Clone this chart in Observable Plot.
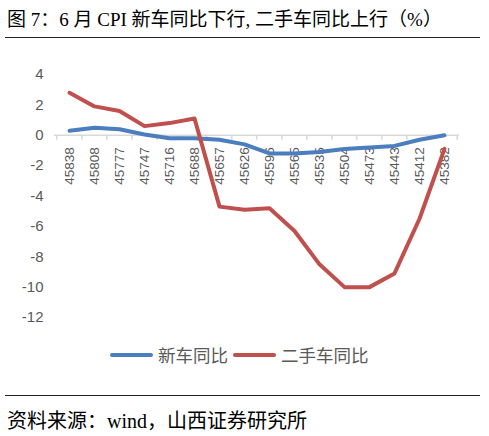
<!DOCTYPE html>
<html>
<head>
<meta charset="utf-8">
<script src="https://cdn.jsdelivr.net/npm/d3@7"></script>
<script src="https://cdn.jsdelivr.net/npm/@observablehq/plot@0.6"></script>
<style>
  body { margin: 0; background: #fff; }
  #page { position: relative; width: 489px; height: 436px; overflow: hidden; }
  .cn { font-family: "Liberation Serif", "Noto Sans CJK SC", serif; color: #000; }
  #title { position: absolute; left: 7px; top: 4px; font-size: 19px; white-space: nowrap; }
  .rule { position: absolute; left: 5px; width: 475px; height: 0; border-top: 1.5px solid #222; }
  #chart { position: absolute; left: 0; top: 40px; }
  #legend { position: absolute; left: 110px; top: 342px; display: flex; align-items: center;
    font-family: "Noto Sans CJK SC", sans-serif; font-size: 17.5px; color: #595959; white-space: nowrap; }
  #legend .sw { width: 43px; height: 4px; border-radius: 2px; margin-right: 5px; }
  #legend .item { display: flex; align-items: center; margin-right: 5px; }
  #caption { position: absolute; left: 7px; top: 405px; font-size: 20px; white-space: nowrap; }
</style>
</head>
<body>
<div id="page">
  <div id="title" class="cn">图 7：6 月 CPI 新车同比下行, 二手车同比上行（%）</div>
  <div class="rule" style="top:37px"></div>
  <div id="chart"></div>
  <div id="legend"></div>
  <div class="rule" style="top:395px"></div>
  <div id="caption" class="cn">资料来源：wind，山西证券研究所</div>
</div>
<script>
// x categories as they appear in the source (Excel serial dates)
var months = ["45838", "45808", "45777", "45747", "45716", "45688", "45657", "45626",
              "45596", "45565", "45535", "45504", "45473", "45443", "45412", "45382"]
var newCar  = [0.3, 0.5, 0.4, 0.05, -0.2, -0.2, -0.3, -0.6, -1.2, -1.2, -1.1, -0.9, -0.8, -0.7, -0.3, 0.0]
var usedCar = [2.8, 1.9, 1.6, 0.6, 0.8, 1.1, -4.7, -4.9, -4.8, -6.3, -8.5, -10.0, -10.0, -9.1, -5.5, -0.9]
var yTicks = [4, 2, 0, -2, -4, -6, -8, -10, -12]

var series = [
  {name: "新车同比", color: "#4a7ebf", values: newCar},
  {name: "二手车同比", color: "#c0504d", values: usedCar}
]

var W = 489, H = 300
var mTop = 34, mBottom = 23, mLeft = 54, mRight = 30
var step = (W - mLeft - mRight) / months.length
var pxPerUnit = (H - mTop - mBottom) / (yTicks[0] - yTicks[yTicks.length - 1])
var tickLen = 5 / pxPerUnit

var rows = []
series.forEach(function(s) {
  s.values.forEach(function(v, i) {
    rows.push({month: months[i], value: v, name: s.name})
  })
})

var marks = [
  Plot.axisY({ticks: yTicks, tickSize: 0, tickPadding: 11, fontSize: 15, fill: "#595959",
              tickFormat: d => String(d), label: null}),
  Plot.ruleY([0], {stroke: "#d9d9d9", strokeWidth: 1.5}),
  Plot.ruleX(months, {x: d => d, y1: 0, y2: -tickLen, dx: -step / 2, stroke: "#d9d9d9", strokeWidth: 1.5}),
  Plot.ruleX(months.slice(-1), {x: d => d, y1: 0, y2: -tickLen, dx: step / 2, stroke: "#d9d9d9", strokeWidth: 1.5}),
  Plot.text(months, {x: d => d, y: () => 0, text: d => d, rotate: -90, textAnchor: "end",
                     dy: 12, fontSize: 13.5, fill: "#595959"})
]
series.forEach(function(s) {
  marks.push(Plot.lineY(rows.filter(r => r.name == s.name), {
    x: "month", y: "value", stroke: s.color, strokeWidth: 4
  }))
})

var plot = Plot.plot({
  width: W,
  height: H,
  marginTop: mTop,
  marginBottom: mBottom,
  marginLeft: mLeft,
  marginRight: mRight,
  style: {fontFamily: "'Liberation Sans', Arial, sans-serif", background: "#fff"},
  x: {type: "point", domain: months, padding: 0.5, axis: null},
  y: {domain: [yTicks[yTicks.length - 1], yTicks[0]], axis: null},
  marks: marks
})
document.getElementById("chart").append(plot)

var legend = document.getElementById("legend")
series.forEach(function(s) {
  var item = document.createElement("div")
  item.className = "item"
  item.innerHTML = `<div class="sw" style="background:${s.color}"></div><span>${s.name}</span>`
  legend.append(item)
})
</script>
</body>
</html>
